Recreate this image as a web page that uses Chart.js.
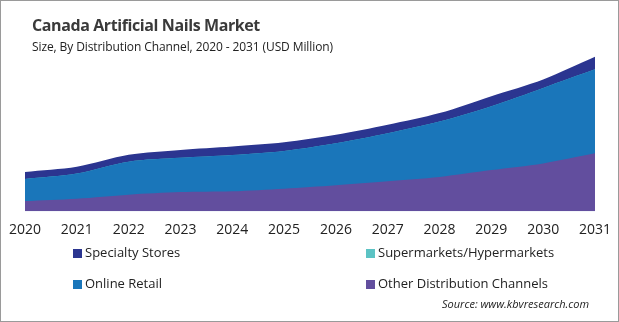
<!DOCTYPE html>
<html>
<head>
<meta charset="utf-8">
<script src="https://cdn.jsdelivr.net/npm/chart.js@4.4.1/dist/chart.umd.min.js"></script>
<style>
  html,body{margin:0;padding:0;background:#fff;}
  #frame{position:relative;width:619px;height:322px;box-sizing:border-box;border:1px solid #9a9a9a;overflow:hidden;font-family:"Open Sans",sans-serif;}
  #titulo{position:absolute;left:31px;top:13px;font-size:16px;font-weight:bold;color:#3a3a3a;letter-spacing:-0.4px;}
  #subtitulo{position:absolute;left:31px;top:37px;font-size:12px;color:#222;letter-spacing:-0.1px;}
  #grafico{position:absolute;left:0;top:0;}
  .leyenda{position:absolute;font-size:13px;color:#222;white-space:nowrap;}
  .leyenda span{display:inline-block;width:9px;height:9px;margin-right:3px;vertical-align:-1px;}
  #fuente{position:absolute;left:441px;top:295px;font-size:11px;font-style:italic;color:#222;}
</style>
</head>
<body>
<div id="frame">
  <canvas id="grafico" width="617" height="320"></canvas>
  <div id="titulo">Canada Artificial Nails Market</div>
  <div id="subtitulo">Size, By Distribution Channel, 2020 - 2031 (USD Million)</div>
  <div class="leyenda" style="left:72px;top:242px"><span style="background:#2b3590"></span>Specialty Stores</div>
  <div class="leyenda" style="left:365px;top:242px"><span style="background:#5cc3c4"></span>Supermarkets/Hypermarkets</div>
  <div class="leyenda" style="left:72px;top:273px"><span style="background:#1a76ba"></span>Online Retail</div>
  <div class="leyenda" style="left:365px;top:273px"><span style="background:#624e9e"></span>Other Distribution Channels</div>
  <div id="fuente">Source: www.kbvresearch.com</div>
</div>
<script>
const anios      = ['2020','2021','2022','2023','2024','2025','2026','2027','2028','2029','2030','2031']
// valores (USD Million, aprox)
const otros      = [5.0, 6.2, 8.2, 9.5, 9.9, 11.2, 12.9, 14.9, 17.0, 20.4, 23.7, 28.7]
const online     = [11.0, 12.5, 16.4, 17.0, 18.0, 18.7, 20.8, 23.8, 27.5, 31.7, 37.5, 41.7]
const supermerc  = [0, 0, 0, 0, 0, 0, 0, 0, 0, 0, 0, 0]
const especial   = [3.5, 3.4, 3.4, 3.9, 4.2, 4.3, 4.2, 4.2, 4.2, 5.0, 4.2, 6.2]

const ctx=document.getElementById('grafico');

const capa=(label,data,color)=>({label,data,backgroundColor:color,borderColor:color,borderWidth:0,fill:true,pointRadius:0,tension:0.3})

const myChart = new Chart(ctx,{
    type:'line',
    data:{
        labels:anios,
        datasets:[
            capa('Other Distribution Channels',otros,'#624e9e'),
            capa('Online Retail',online,'#1a76ba'),
            capa('Supermarkets/Hypermarkets',supermerc,'#5cc3c4'),
            capa('Specialty Stores',especial,'#2b3590')
        ]
    },
    options:{
        responsive:false,
        animation:false,
        layout:{padding:{left:24,right:23,top:50,bottom:81}},
        plugins:{legend:{display:false},tooltip:{enabled:false}},
        scales:{
            x:{offset:false,grid:{display:false},border:{display:false},
               ticks:{color:'#222',font:{family:'Open Sans',size:14},padding:2,maxRotation:0}},
            y:{stacked:true,display:false,min:0,max:79.5}
        }
    }
})
</script>
</body>
</html>
